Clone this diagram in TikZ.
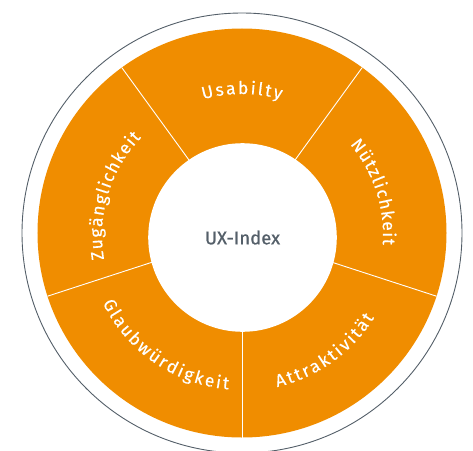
\documentclass[tikz,border=0pt]{standalone}
\usepackage{fontspec}
\usetikzlibrary{decorations.text}

\newfontfamily\segfamily{Fira Sans}[FakeBold=0.3]
\newfontfamily\uxfamily{Fira Sans}[FakeBold=0.7]
\newcommand{\segfont}{\segfamily\fontsize{17.5}{17.5}\selectfont}

\definecolor{uxorange}{RGB}{240,141,0}
\definecolor{uxgray}{RGB}{84,95,105}

\begin{document}
\begin{tikzpicture}[x=1pt,y=1pt,
    seglabel/.style={decorate,
        decoration={text along path, text align={fit to path}, text color=white}}]
    \useasboundingbox (-242,-217) rectangle (231,233);
    \clip (-242,-217) rectangle (231,233);

    \coordinate (O) at (0,0);
    \coordinate (I) at (0.5,-4.5); % inner hole sits a little low

    % thin frame and the orange ring
    \draw[uxgray, line width=0.9pt] (O) circle (220pt);
    \fill[uxorange] (O) circle (204.5pt);

    % white borders between the five parts
    \foreach \a in {54,126,198,270,342}{
        \draw[white, line width=0.9pt] (O) -- (\a:204.5pt);
    }

    % hole in the middle
    \fill[white] (I) circle (94.3pt);
    \node[font=\uxfamily\fontsize{18.5}{18.5}\selectfont, text=uxgray] (ux) at (I) {UX-Index};

    % labels along the ring (top ones clockwise, bottom ones counter-clockwise)
    \begin{scope}[shift={(0,-2)}]
        \path[seglabel, decoration={text={|\segfont|Usabilty}}]
            (106:141pt) arc[start angle=106, end angle=74, radius=141pt];
        \path[seglabel, decoration={text={|\segfont|Nützlichkeit}}]
            (40:141pt) arc[start angle=40, end angle=-4, radius=141pt];
        \path[seglabel, decoration={text={|\segfont|Zugänglichkeit}}]
            (190:140pt) arc[start angle=190, end angle=136, radius=140pt];
        \path[seglabel, decoration={text={|\segfont|Attraktivität}}]
            (-77:156pt) arc[start angle=-77, end angle=-32, radius=156pt];
        \path[seglabel, decoration={text={|\segfont|Glaubwürdigkeit}}]
            (206:155pt) arc[start angle=206, end angle=265, radius=155pt];
    \end{scope}
\end{tikzpicture}
\end{document}
